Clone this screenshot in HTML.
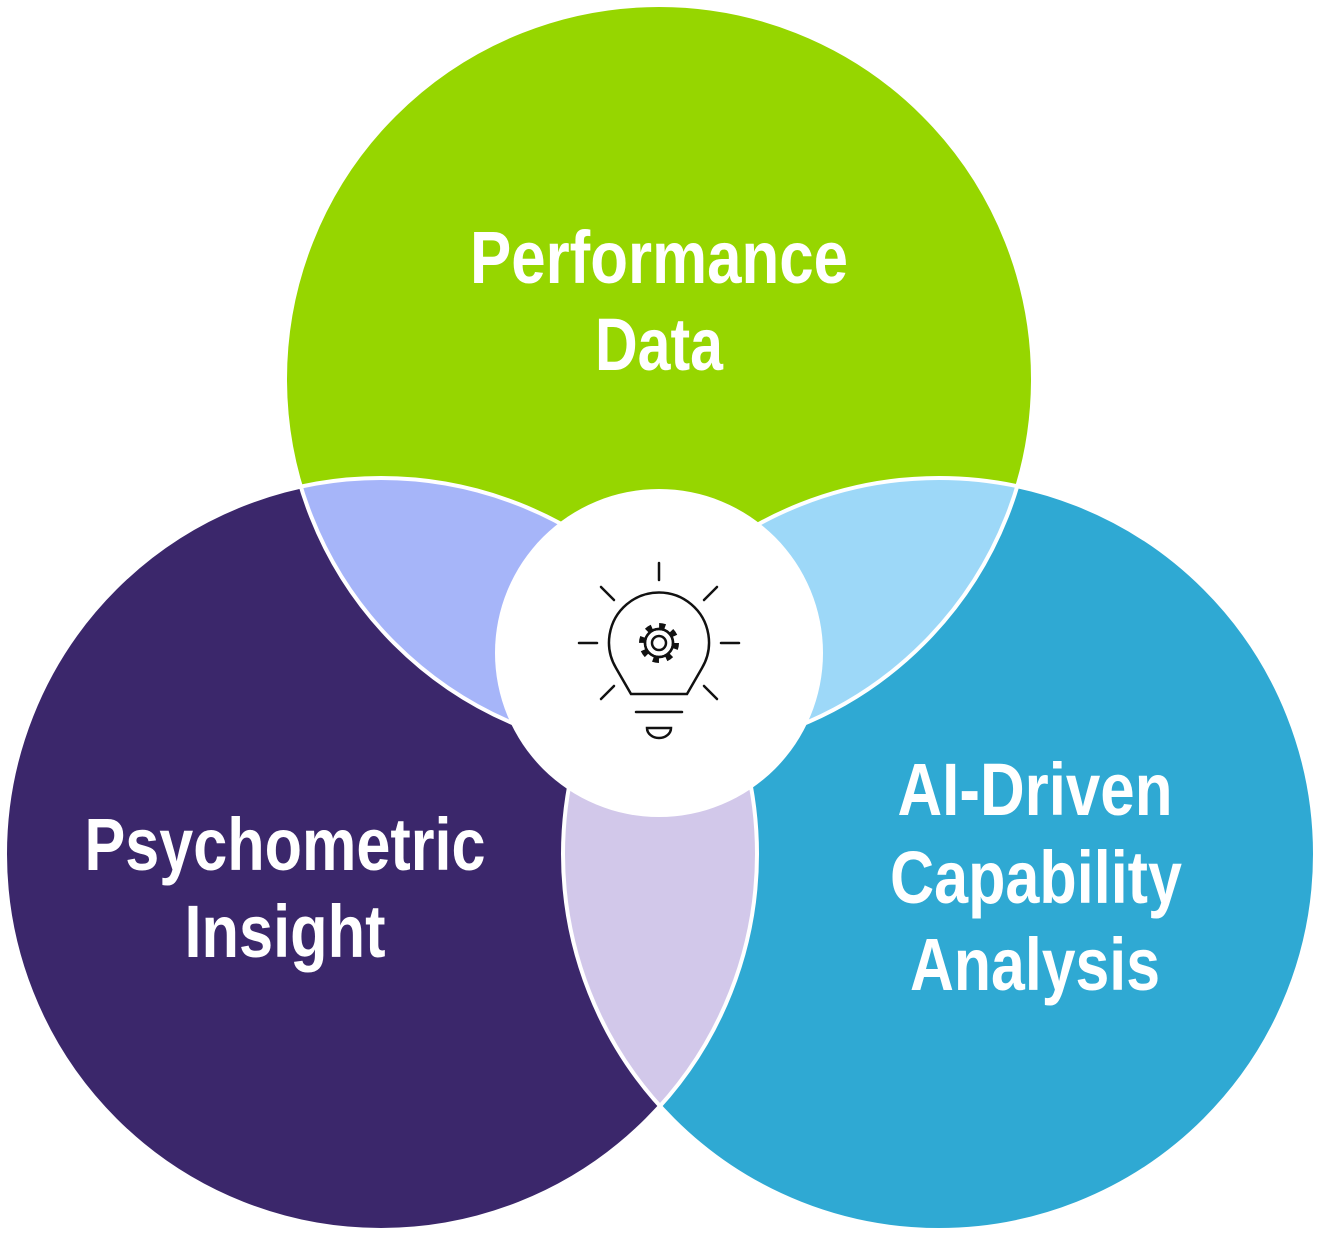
<!DOCTYPE html>
<html><head><meta charset="utf-8"><style>
html,body{margin:0;padding:0;background:#fff;}
svg{display:block;}
text{font-family:"Liberation Sans Narrow","Liberation Sans",sans-serif;font-weight:bold;fill:#fff;text-anchor:middle;}
</style></head><body>
<svg width="1320" height="1235" viewBox="0 0 1320 1235" xmlns="http://www.w3.org/2000/svg">
<defs>
<clipPath id="cg"><circle cx="659" cy="379" r="374"/></clipPath>
<clipPath id="cp"><circle cx="381" cy="854" r="376"/></clipPath>
<clipPath id="cb"><circle cx="939" cy="854" r="376"/></clipPath>
</defs>
<circle cx="659" cy="379" r="374" fill="#96d600"/>
<circle cx="381" cy="854" r="376" fill="#3b276b"/>
<circle cx="939" cy="854" r="376" fill="#2fa9d3"/>
<g clip-path="url(#cg)"><circle cx="381" cy="854" r="376" fill="#a6b5f9"/></g>
<g clip-path="url(#cg)"><circle cx="939" cy="854" r="376" fill="#9dd8f8"/></g>
<g clip-path="url(#cp)"><circle cx="939" cy="854" r="376" fill="#d2c8ea"/></g>
<g fill="none" stroke="#fff" stroke-width="4">
<circle cx="659" cy="379" r="374"/>
<circle cx="381" cy="854" r="376"/>
<circle cx="939" cy="854" r="376"/>
</g>
<circle cx="659" cy="653" r="164" fill="#fff"/>
<g fill="none" stroke="#111" stroke-width="2.5" stroke-linecap="round">
<line x1="659" y1="563" x2="659" y2="580"/>
<line x1="601" y1="587" x2="614" y2="600"/>
<line x1="717" y1="587" x2="704" y2="600"/>
<line x1="579" y1="643" x2="597" y2="643"/>
<line x1="721" y1="643" x2="739" y2="643"/>
<line x1="601" y1="699" x2="614" y2="686"/>
<line x1="717" y1="699" x2="704" y2="686"/>
<path d="M631 694 L616 668 A50 50 0 1 1 702 668 L687 694 Z"/>
<line x1="636" y1="712" x2="682" y2="712"/>
<path d="M647 728 L671 728 A12 10 0 0 1 647 728 Z"/>
<circle cx="659" cy="643" r="7"/>
<circle cx="659" cy="643" r="14"/>
<circle cx="659" cy="643" r="17" stroke-width="6" stroke-dasharray="6 7.35" stroke-linecap="butt"/>
</g>
<circle cx="659" cy="643" r="12.7" fill="#fff"/>
<circle cx="659" cy="643" r="14" fill="none" stroke="#111" stroke-width="2.5"/>
<circle cx="659" cy="643" r="7" fill="none" stroke="#111" stroke-width="2.5"/>
<text x="659" y="283" font-size="74" textLength="378" lengthAdjust="spacingAndGlyphs">Performance</text>
<text x="659" y="370" font-size="74" textLength="128" lengthAdjust="spacingAndGlyphs">Data</text>
<text x="285" y="870" font-size="74" textLength="401" lengthAdjust="spacingAndGlyphs">Psychometric</text>
<text x="285" y="957" font-size="74" textLength="201" lengthAdjust="spacingAndGlyphs">Insight</text>
<text x="1035" y="815" font-size="74" textLength="275" lengthAdjust="spacingAndGlyphs">AI-Driven</text>
<text x="1036" y="903" font-size="74" textLength="292" lengthAdjust="spacingAndGlyphs">Capability</text>
<text x="1035" y="990" font-size="74" textLength="250" lengthAdjust="spacingAndGlyphs">Analysis</text>
</svg>
</body></html>
